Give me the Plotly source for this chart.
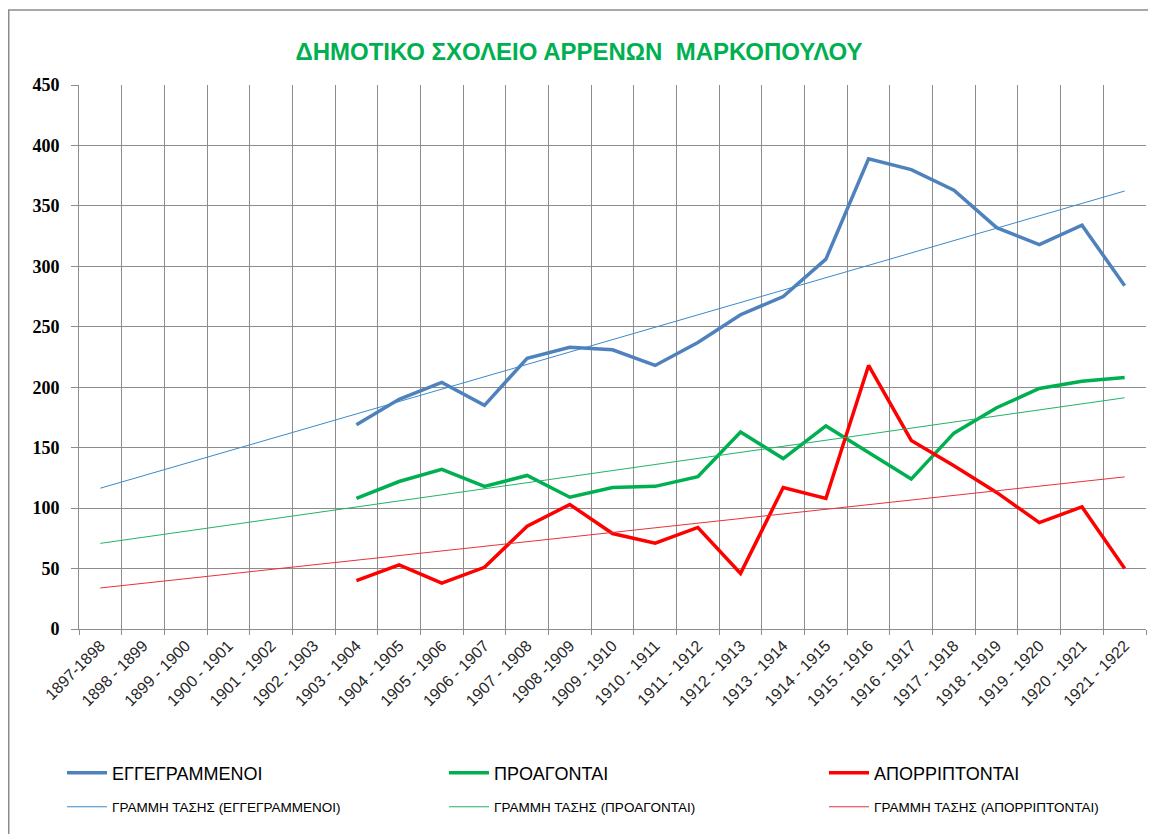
import numpy as np
import plotly.graph_objects as go

years = ["1897-1898", "1898 - 1899", "1899 - 1900", "1900 - 1901", "1901 - 1902",
         "1902 - 1903", "1903 - 1904", "1904 - 1905", "1905 - 1906", "1906 - 1907",
         "1907 - 1908", "1908 -1909", "1909 - 1910", "1910 - 1911", "1911 - 1912",
         "1912 - 1913", "1913 - 1914", "1914 - 1915", "1915 - 1916", "1916 - 1917",
         "1917 - 1918", "1918 - 1919", "1919 - 1920", "1920 - 1921", "1921 - 1922"]

N = None
enrolled = [N, N, N, N, N, N, 169, 190, 204, 185, 224, 233, 231, 218, 237, 260,
            275, 306, 389, 380, 363, 332, 318, 334, 284]
promoted = [N, N, N, N, N, N, 108, 122, 132, 118, 127, 109, 117, 118, 126, 163,
            141, 168, 146, 124, 162, 183, 199, 205, 208]
failed = [N, N, N, N, N, N, 40, 53, 38, 51, 85, 103, 79, 71, 84, 46,
          117, 108, 218, 156, 135, 113, 88, 101, 50]

names = ["ΕΓΓΕΓΡΑΜΜΕΝΟΙ", "ΠΡΟΑΓΟΝΤΑΙ", "ΑΠΟΡΡΙΠΤΟΝΤΑΙ"]
colors = ["#4F81BD", "#00B050", "#FF0000"]
trend_colors = ["#3C89C9", "#22B26A", "#E8323C"]

TITLE = "ΔΗΜΟΤΙΚΟ ΣΧΟΛΕΙΟ ΑΡΡΕΝΩΝ  ΜΑΡΚΟΠΟΥΛΟΥ"
SANS = "Liberation Sans, Arial, sans-serif"

# the page body adds an 8px offset, so the figure is sized to fit the window
W, H = 1148, 826
ML, MR, MT, MB = 71, 10, 77, 204.5
legend_cols_px = [54, 436, 816]
legend_rows_px = [765, 799]


def linear_trend(values):
    idx = np.array([i for i, v in enumerate(values) if v is not None], dtype=float)
    vals = np.array([v for v in values if v is not None], dtype=float)
    slope, intercept = np.polyfit(idx, vals, 1)
    xs = np.arange(len(values), dtype=float)
    return list(slope * xs + intercept)


fig = go.Figure()

for k, (series, name, col) in enumerate(zip([enrolled, promoted, failed], names, colors)):
    fig.add_trace(go.Scatter(x=years, y=series, mode="lines", name=name,
                             line=dict(color=col, width=3.5),
                             legend="legend" if k == 0 else "legend%d" % (k + 1)))

for k, (series, name, col) in enumerate(zip([enrolled, promoted, failed], names, trend_colors)):
    fig.add_trace(go.Scatter(x=years, y=linear_trend(series), mode="lines",
                             name="ΓΡΑΜΜΗ ΤΑΣΗΣ (" + name + ")",
                             line=dict(color=col, width=1),
                             legend="legend%d" % (k + 4)))

legends = {}
for r, ypx in enumerate(legend_rows_px):
    for c, xpx in enumerate(legend_cols_px):
        n = r * 3 + c + 1
        key = "legend" if n == 1 else "legend%d" % n
        legends[key] = dict(
            orientation="h", xref="container", yref="container",
            x=xpx / W, xanchor="left", y=1 - ypx / H, yanchor="middle",
            bgcolor="rgba(0,0,0,0)", itemwidth=40,
            font=dict(family=SANS, size=18 if r == 0 else 13.5, color="#000000"),
        )

pw = W - ML - MR
ph = H - MT - MB

fig.update_layout(
    width=W, height=H,
    margin=dict(l=ML, r=MR, t=MT, b=MB, autoexpand=False),
    paper_bgcolor="white", plot_bgcolor="white",
    title=dict(text=TITLE, x=571 / W, xref="container", xanchor="center",
               y=1 - 44 / H, yref="container", yanchor="middle",
               font=dict(family=SANS, size=24, color="#00B050", weight="bold")),
    xaxis=dict(type="category", range=[-0.5, 24.5], tickson="boundaries",
               automargin=False,
               showgrid=True, gridcolor="#8C8C8C", gridwidth=1,
               showline=True, linecolor="#8C8C8C", linewidth=1,
               ticks="outside", ticklen=5, tickcolor="#8C8C8C",
               tickangle=-45, tickfont=dict(family=SANS, size=16, color="#262626")),
    yaxis=dict(range=[0, 450], dtick=50, showgrid=True, gridcolor="#8C8C8C",
               automargin=False,
               gridwidth=1, showline=True, linecolor="#8C8C8C", linewidth=1,
               ticks="outside", ticklen=7, tickcolor="#8C8C8C", zeroline=False,
               ticklabelstandoff=8,
               tickfont=dict(family="Liberation Serif, serif", size=18, color="#000000",
                             weight="bold")),
    shapes=[dict(type="rect", xref="paper", yref="paper",
                 x0=(0.75 - ML) / pw, x1=(W + 20 - ML) / pw,
                 y0=-(H + 20 - (H - MB)) / ph, y1=1 + (MT - 2) / ph,
                 line=dict(color="#8C8C8C", width=1.5), layer="below")],
    showlegend=True,
    **legends,
)

fig.write_html("out.html")
